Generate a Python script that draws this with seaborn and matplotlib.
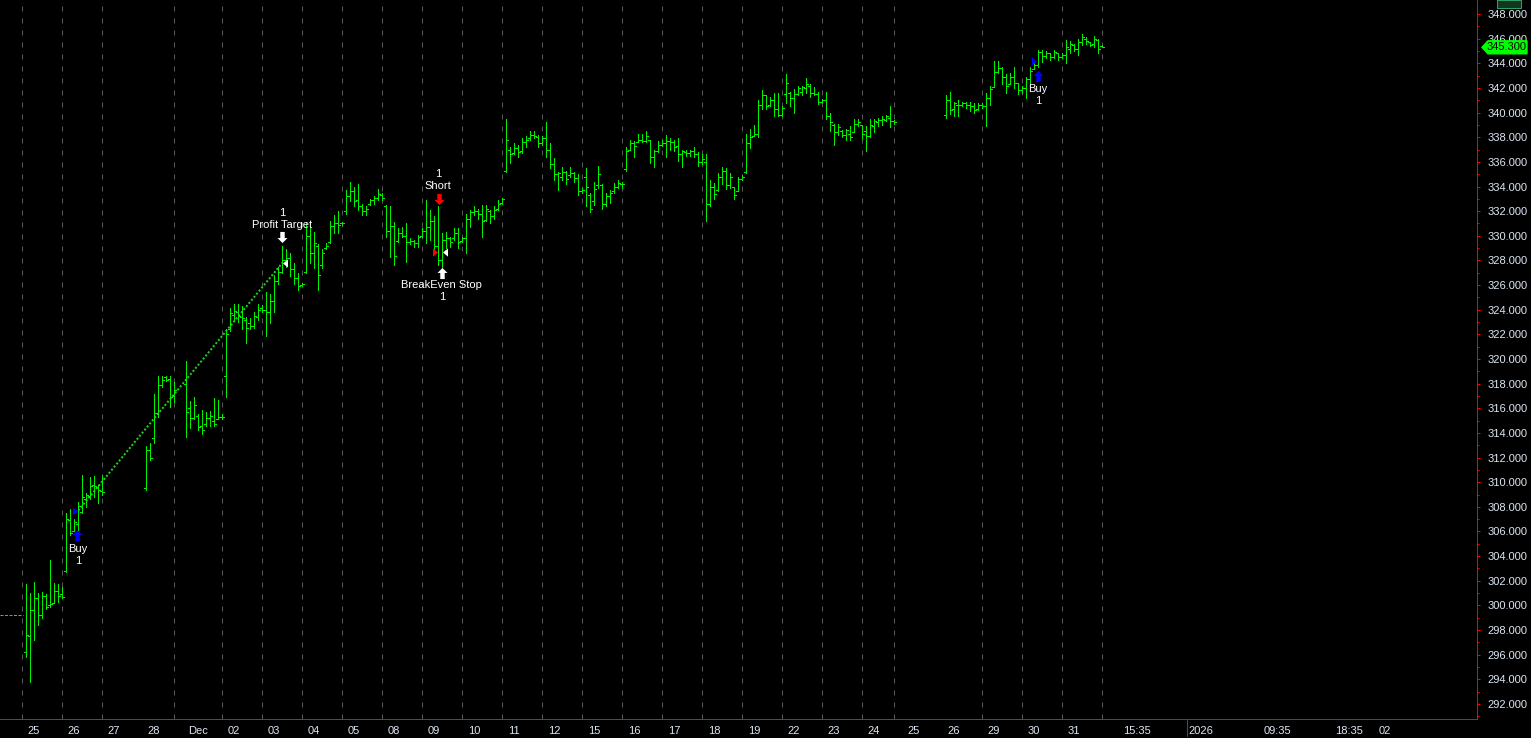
import numpy as np
import matplotlib
matplotlib.use("Agg")
import matplotlib.pyplot as plt
import matplotlib.transforms as mtransforms
from matplotlib.patches import Polygon, Rectangle
import seaborn as sns

N = None
# ---------------- data (one entry per bar slot; None = no bar) ----------------
highs = [
    301.7, 301.0, 301.9, 301.0, 301.1, 300.9, 303.7, 301.8, 301.7, 301.5,   # 25
    307.5, 307.8, 307.0, 308.4, 310.6, 309.1, 310.4, 310.5, 309.8, 310.6,   # 26
    N, N, N, N, N, N, N, N, N, N,                                           # 27
    312.9, 313.2, 317.2, 318.6, 318.6, 318.6, 318.6, 318.1,                 # 28
    N, N, 319.8, 316.6, 316.9, 315.5, 315.9, 315.7, 315.8, 316.8, 316.7, 315.5,  # Dec 01
    322.4, 324.1, 324.5, 324.5, 324.3, 323.4, 323.3, 323.8, 324.5, 324.4,   # 02
    325.4, 325.3, 326.8, 327.5, 329.2, 328.9, 328.6, 327.8, 327.0, 326.2,   # 03
    331.1, 330.6, 330.3, 329.3, 328.9, 329.4, 331.2, 331.7, 332.0, 331.1,   # 04
    333.7, 334.4, 334.0, 334.2, 332.6, 332.4, 333.0, 333.2, 333.8, 333.5,   # 05
    332.5, 332.4, 331.1, 330.6, 330.7, 331.0, 329.8, 329.7, 330.1, 330.6,   # 08
    332.9, 332.1, 331.6, 332.4, 330.2, 330.3, 329.9, 330.6, 330.6, 329.9,   # 09
    331.8, 332.1, 332.4, 332.2, 332.5, 332.5, 332.1, 332.4, 332.9, 333.1,   # 10
    339.5, 337.2, 337.5, 337.4, 337.9, 338.1, 338.5, 338.5, 338.2, 338.1,   # 11
    339.2, 337.5, 336.3, 335.2, 335.6, 335.3, 335.6, 335.2, 335.0, 333.9,   # 12
    335.5, 333.5, 334.4, 335.7, 334.2, 333.5, 333.7, 334.3, 334.5, 334.4,   # 15
    337.2, 337.8, 337.7, 338.3, 338.3, 338.5, 337.8, 337.0, 337.7, 337.8,   # 16
    338.2, 337.9, 337.8, 337.9, 337.0, 337.0, 337.0, 337.2, 336.8, 336.6,   # 17
    336.6, 334.5, 334.3, 335.1, 335.6, 335.5, 335.1, 334.0, 334.8, 334.9,   # 18
    338.3, 338.7, 339.0, 341.0, 341.8, 341.4, 341.3, 341.6, 341.6, 340.5,   # 19
    343.1, 341.7, 341.9, 342.2, 342.2, 342.8, 342.3, 342.1, 341.7, 341.1,   # 22
    341.7, 340.0, 339.1, 339.1, 338.6, 338.7, 338.9, 339.5, 339.5, 339.0,   # 23
    338.9, 339.5, 339.5, 339.6, 339.7, 339.8, 340.5, 339.4,                 # 24
    N, N, N, N, N, N, N, N, N, N, N, N,                                     # 25 (closed)
    341.4, 341.7, 340.9, 341.0, 340.9, 340.9, 340.9, 340.8, 340.8, 340.8,   # 26
    341.6, 342.2, 344.2, 344.2, 343.7, 343.1, 343.2, 343.7, 342.4, 342.2,   # 29
    342.9, 343.7, 344.1, 345.1, 345.1, 345.0, 344.8, 345.1, 344.8, 344.8,   # 30
    345.9, 345.8, 345.6, 346.0, 346.4, 346.1, 345.7, 346.2, 346.0, 345.5,   # 31
]
lows = [
    295.8, 293.8, 297.2, 298.4, 299.0, 299.7, 299.9, 300.3, 300.3, 300.6,
    302.7, 305.7, 306.0, 306.1, 307.5, 308.0, 308.6, 308.8, 308.3, 309.0,
    N, N, N, N, N, N, N, N, N, N,
    309.4, 311.8, 313.2, 315.3, 317.7, 318.2, 316.1, 316.5,
    N, N, 313.7, 314.4, 315.1, 314.2, 313.9, 314.6, 314.6, 314.6, 315.1, 315.1,
    316.9, 322.3, 323.2, 323.0, 322.4, 321.3, 322.4, 322.5, 323.2, 323.8,
    321.9, 322.9, 323.8, 326.1, 327.0, 327.5, 326.7, 326.1, 325.6, 325.9,
    327.0, 327.8, 327.4, 325.6, 327.4, 328.9, 329.4, 330.2, 330.2, 330.9,
    331.8, 332.8, 332.4, 332.1, 331.7, 331.7, 332.5, 332.6, 332.9, 332.9,
    329.9, 328.3, 327.6, 329.5, 329.9, 327.9, 329.3, 329.1, 329.1, 329.9,
    329.4, 329.7, 328.6, 327.6, 327.5, 329.0, 329.1, 329.7, 329.0, 329.5,
    328.6, 330.7, 331.7, 331.4, 329.9, 331.2, 331.0, 331.4, 332.1, 332.6,
    335.2, 335.9, 336.6, 336.4, 336.7, 337.2, 337.8, 337.9, 337.2, 337.4,
    336.4, 335.5, 334.5, 333.7, 334.5, 334.2, 334.8, 334.4, 333.3, 333.5,
    332.4, 331.9, 332.5, 333.9, 332.2, 332.4, 332.7, 333.5, 333.9, 333.9,
    335.3, 337.0, 336.4, 337.6, 337.6, 337.6, 335.9, 335.6, 336.8, 337.3,
    336.4, 337.0, 336.9, 336.1, 335.6, 336.5, 336.5, 336.4, 335.7, 335.8,
    331.2, 332.4, 333.0, 333.6, 334.2, 333.8, 333.9, 333.0, 333.6, 334.5,
    335.1, 337.1, 338.1, 338.0, 340.3, 340.3, 340.5, 339.7, 339.7, 339.7,
    340.8, 340.5, 340.0, 341.4, 341.4, 341.6, 341.3, 341.4, 340.7, 340.8,
    339.5, 338.5, 337.4, 338.2, 338.0, 337.8, 337.8, 338.4, 338.9, 337.9,
    336.9, 338.0, 338.4, 338.9, 339.0, 339.3, 338.8, 339.1,
    N, N, N, N, N, N, N, N, N, N, N, N,
    339.6, 339.9, 339.7, 339.7, 340.5, 340.4, 340.1, 340.0, 340.2, 340.4,
    338.9, 340.6, 342.1, 343.2, 342.3, 341.6, 342.3, 342.0, 341.5, 341.6,
    341.2, 342.4, 343.5, 343.7, 344.1, 344.4, 344.3, 344.4, 344.3, 344.4,
    344.0, 344.8, 345.0, 344.7, 345.5, 345.6, 345.4, 345.3, 344.8, 345.3,
]
opens = [
    296.2, 297.5, 299.6, 300.6, 299.2, 300.8, 300.0, 300.2, 301.2, 300.9,
    302.8, 306.9, 306.0, 306.6, 307.6, 308.6, 308.9, 309.8, 309.6, 309.3,
    N, N, N, N, N, N, N, N, N, N,
    309.5, 312.6, 313.6, 315.6, 317.9, 318.5, 318.4, 317.0,
    N, N, 318.0, 316.0, 315.2, 315.4, 314.6, 314.7, 315.2, 315.0, 315.1, 315.3,
    318.6, 322.4, 323.6, 323.8, 323.4, 323.2, 322.9, 322.7, 323.4, 324.1,
    324.0, 323.8, 324.7, 326.3, 327.1, 328.0, 328.2, 327.3, 326.6, 326.0,
    327.1, 330.0, 328.6, 329.2, 327.6, 329.0, 329.5, 330.8, 331.0, 331.0,
    332.0, 333.2, 333.6, 332.9, 332.4, 332.0, 332.6, 332.9, 333.1, 333.3,
    332.4, 330.4, 330.8, 329.6, 330.2, 330.0, 329.5, 329.6, 329.4, 330.0,
    330.4, 330.7, 331.2, 329.2, 328.0, 329.7, 329.8, 329.8, 330.2, 329.6,
    329.8, 331.4, 331.9, 332.0, 331.8, 331.3, 332.0, 331.6, 332.2, 332.7,
    335.3, 337.0, 336.7, 337.1, 336.9, 337.6, 337.9, 338.2, 338.0, 337.5,
    337.9, 337.0, 335.8, 335.0, 334.8, 335.2, 334.9, 335.1, 334.7, 333.6,
    334.8, 333.3, 332.8, 334.1, 334.1, 332.6, 333.2, 333.6, 334.0, 334.2,
    335.4, 337.0, 337.5, 337.6, 337.8, 337.7, 337.8, 336.4, 336.9, 337.4,
    337.5, 337.7, 337.6, 337.3, 336.6, 336.8, 336.7, 336.9, 336.6, 336.0,
    336.0, 332.6, 334.0, 333.7, 334.8, 335.3, 334.1, 334.0, 333.6, 334.6,
    335.2, 337.5, 338.1, 338.3, 340.6, 341.4, 340.6, 341.0, 340.3, 339.8,
    341.5, 341.6, 341.2, 341.5, 341.7, 342.0, 342.2, 341.6, 341.5, 340.9,
    341.0, 339.7, 339.0, 338.4, 338.5, 338.2, 338.3, 338.4, 339.1, 339.0,
    338.5, 338.1, 338.9, 339.2, 339.4, 339.4, 339.6, 339.3,
    N, N, N, N, N, N, N, N, N, N, N, N,
    339.8, 341.0, 340.3, 340.6, 340.6, 340.8, 340.6, 340.5, 340.3, 340.6,
    340.5, 341.2, 342.1, 343.3, 343.6, 342.9, 342.3, 342.9, 342.4, 341.8,
    342.0, 342.7, 343.5, 343.9, 344.9, 344.6, 344.8, 344.5, 344.8, 344.5,
    344.7, 345.2, 345.5, 345.2, 345.7, 346.0, 345.7, 345.6, 345.9, 345.4,
]
closes = [
    297.6, 299.6, 300.6, 299.2, 300.8, 299.9, 300.1, 301.2, 300.8, 300.7,
    307.0, 305.9, 306.8, 308.1, 308.8, 309.0, 309.7, 309.7, 309.4, 309.2,
    N, N, N, N, N, N, N, N, N, N,
    312.6, 312.0, 315.6, 317.9, 318.3, 318.3, 316.9, 317.5,
    N, N, 315.7, 315.2, 316.3, 314.5, 314.2, 315.2, 315.4, 314.7, 315.3, 315.3,
    322.0, 323.7, 323.9, 323.5, 323.3, 322.5, 322.7, 323.5, 324.0, 324.0,
    323.8, 324.7, 326.3, 327.1, 328.0, 328.2, 327.3, 326.6, 325.9, 326.1,
    330.0, 328.6, 329.4, 326.8, 328.6, 329.2, 330.8, 331.0, 330.9, 331.0,
    333.2, 333.6, 332.8, 332.4, 332.0, 332.2, 332.9, 333.1, 333.4, 333.1,
    330.4, 330.8, 328.4, 330.2, 330.0, 329.5, 329.6, 329.4, 329.9, 330.4,
    330.7, 331.2, 329.2, 328.0, 329.7, 329.8, 329.5, 330.2, 329.5, 329.8,
    331.4, 331.9, 332.0, 331.8, 331.2, 332.2, 331.6, 332.1, 332.6, 333.0,
    337.8, 336.6, 337.1, 336.8, 337.6, 337.8, 338.2, 338.1, 337.5, 337.9,
    337.0, 335.8, 335.0, 335.1, 335.2, 334.6, 335.1, 334.7, 333.6, 333.7,
    334.0, 332.2, 333.8, 335.0, 332.6, 333.2, 333.5, 334.0, 334.3, 334.2,
    336.9, 337.5, 337.3, 337.8, 337.7, 338.1, 336.4, 336.9, 337.4, 337.5,
    337.7, 337.6, 337.2, 336.6, 336.9, 336.7, 336.9, 336.6, 336.0, 336.2,
    332.6, 334.0, 333.4, 334.8, 335.3, 334.1, 334.8, 333.3, 334.6, 334.8,
    337.5, 338.0, 338.3, 340.6, 341.4, 340.5, 341.0, 340.3, 339.8, 340.4,
    342.4, 341.2, 341.5, 342.0, 342.1, 342.3, 341.6, 341.5, 340.9, 341.0,
    339.7, 339.2, 338.4, 338.8, 338.2, 338.6, 338.0, 339.1, 339.2, 338.3,
    338.1, 339.0, 339.3, 339.4, 339.5, 339.7, 339.3, 339.2,
    N, N, N, N, N, N, N, N, N, N, N, N,
    341.0, 340.2, 340.8, 340.6, 340.8, 340.6, 340.5, 340.2, 340.6, 340.5,
    341.2, 341.9, 343.3, 343.6, 342.9, 342.2, 342.9, 342.4, 341.8, 342.0,
    342.7, 343.4, 343.9, 344.9, 344.6, 344.8, 344.5, 344.9, 344.5, 344.7,
    345.3, 345.6, 345.2, 345.7, 346.1, 345.8, 345.5, 346.0, 345.2, 345.3,
]

# x-axis labels (bar-slot positions) and session separators
day_labels = ["25", "26", "27", "28", "Dec", "02", "03", "04", "05", "08", "09", "10",
              "11", "12", "15", "16", "17", "18", "19", "22", "23", "24", "25", "26",
              "29", "30", "31", "15:35", "2026", "09:35", "18:35", "02"]
day_label_slots = [0, 10, 20, 30, 40, 50, 60, 70, 80, 90, 100, 110, 120, 130, 140, 150,
                   160, 170, 180, 190, 200, 210, 220, 230, 240, 250, 260,
                   273.7, 290.2, 308.9, 326.7, 337.7]
minor_tick_slots = [4, 22, 58, 76, 94, 112, 148, 166, 184, 202, 238, 256, 344.4]
separator_slots = [-1, 9, 19, 37, 49, 59, 69, 79, 89, 99, 109, 119, 129, 139, 149, 159,
                   169, 179, 189, 199, 209, 217, 239, 249, 259, 269]
prev_close = 299.2
last_price = 345.3

# trades: (label, slot, price, colour)
entries = [("Buy", 13, 307.7, "#0000FF"), ("Short", 103, 328.7, "#FF0000"), ("Buy", 253, 344.2, "#0000FF")]
exits = [("Profit Target", 64, 327.8), ("BreakEven Stop", 104, 328.7)]

# ---------------- style ----------------
sns.set_style("dark", rc={"axes.facecolor": "black", "figure.facecolor": "black"})
plt.rcParams["font.family"] = ["Liberation Sans", "DejaVu Sans"]

GREEN = "#00F000"
RED = "#FF0000"
LBL = "#DCE6F2"
PX = 0.72  # one pixel in points at dpi 100

fig = plt.figure(figsize=(15.31, 7.38), dpi=100)
fig.patch.set_facecolor("black")
ax = fig.add_axes([0, 19 / 738, 1477 / 1531, 719 / 738])
ax.set_facecolor("black")
ax.set_xlim(-6.575, 362.675)
ax.set_ylim(290.78, 349.14)
ax.grid(False)

for s in ["top", "left"]:
    ax.spines[s].set_visible(False)
for s in ["right", "bottom"]:
    ax.spines[s].set_color(RED)
    ax.spines[s].set_linewidth(PX)

# session separators
for sx in separator_slots:
    ax.axvline(sx, color="#5A5A5A", lw=PX, ls=(0, (5, 7)), zorder=1)

# previous close line
ax.hlines(prev_close, -6.575, -0.9, color=GREEN, lw=PX, ls=(0, (3, 1.5)), zorder=2)

# trade line (dotted) via seaborn
sns.lineplot(x=[entries[0][1], exits[0][1]], y=[entries[0][2], exits[0][2]], ax=ax,
             color="#1FCF1F", lw=2 * PX, linestyle=(0, (1, 1)), zorder=2)

# OHLC bars
xs = np.arange(len(highs), dtype=float)
H = np.array([np.nan if v is None else v for v in highs])
L = np.array([np.nan if v is None else v for v in lows])
O = np.array([np.nan if v is None else v for v in opens])
C = np.array([np.nan if v is None else v for v in closes])
m = ~np.isnan(H)
ax.vlines(xs[m], L[m], H[m], color=GREEN, lw=PX, antialiased=False, zorder=3)
ax.hlines(O[m], xs[m] - 0.5, xs[m], color=GREEN, lw=PX, antialiased=False, zorder=3)
ax.hlines(C[m], xs[m], xs[m] + 0.5, color=GREEN, lw=PX, antialiased=False, zorder=3)

# ---------------- trade markers ----------------
tri_r = [(-0.6, 1), (0.6, 0), (-0.6, -1)]
tri_l = [(0.6, 1), (-0.6, 0), (0.6, -1)]
arrow_up = [(-0.4, -1), (0.4, -1), (0.4, 0.1), (0.9, 0.1), (0, 1), (-0.9, 0.1), (-0.4, 0.1)]
arrow_dn = [(x, -y) for x, y in arrow_up]

def mk(x, y, verts, color, ms):
    ax.plot([x], [y], ls="none", marker=verts, ms=ms, color=color, mew=0, zorder=6, clip_on=False)

def txt(x, y, s):
    ax.text(x, y, s, color="white", fontsize=8, ha="center", va="center", zorder=7)

# Buy #1
mk(12.05, entries[0][2], tri_r, "#0000FF", 6.0)
mk(12.75, 305.7, arrow_up, "#0000FF", 8.0)
txt(12.9, 304.55, "Buy")
txt(12.9, 303.6, "1")
# Profit target
mk(64.6, exits[0][2], tri_l, "white", 6.0)
mk(63.85, 329.9, arrow_dn, "white", 8.0)
txt(63.9, 330.87, "Profit Target")
txt(63.9, 331.85, "1")
# Short
mk(102.2, entries[1][2], tri_r, RED, 6.0)
mk(103.05, 333.0, arrow_dn, RED, 8.0)
txt(102.9, 334.04, "Short")
txt(102.9, 335.0, "1")
# BreakEven stop
mk(104.75, exits[1][2], tri_l, "white", 6.0)
mk(103.85, 327.0, arrow_up, "white", 8.0)
txt(103.9, 326.0, "BreakEven Stop")
txt(103.9, 325.03, "1")
# Buy #2
mk(252.0, entries[2][2], tri_r, "#0000FF", 6.0)
mk(252.85, 343.0, arrow_up, "#0000FF", 8.0)
txt(252.9, 341.9, "Buy")
txt(252.9, 340.94, "1")

# ---------------- axes ticks ----------------
ax.yaxis.tick_right()
yt = np.arange(292, 349, 2)
ax.set_yticks(yt)
ax.set_yticklabels([f"{v:.3f}" for v in yt])
ax.set_yticks(np.arange(291, 349, 2), minor=True)
ax.tick_params(axis="y", which="major", direction="out", length=3.3 * PX, width=PX,
               color=RED, labelcolor=LBL, labelsize=8, pad=5)
ax.tick_params(axis="y", which="minor", direction="out", length=2.2 * PX, width=PX, color=RED)

ax.set_xticks(day_label_slots)
ax.set_xticklabels(day_labels, ha="left")
ax.set_xticks(minor_tick_slots, minor=True)
ax.tick_params(axis="x", which="both", direction="out", length=3.3 * PX, width=PX,
               color=RED, labelcolor=LBL, labelsize=8, pad=2.5)
off = mtransforms.ScaledTranslation(1.5 / 100, 0, fig.dpi_scale_trans)
for lab in ax.get_xticklabels():
    lab.set_transform(lab.get_transform() + off)

# year tick (tall)
bt = mtransforms.blended_transform_factory(ax.transData, ax.transAxes)
ax.plot([290.2, 290.2], [0, -17 / 719], color=RED, lw=PX, transform=bt, clip_on=False)

# last price marker
rt = mtransforms.blended_transform_factory(ax.transAxes, ax.transData)
W = 1477.0
hp = 6.5 / 12.32
poly = Polygon([(1 + 5 / W, last_price), (1 + 11 / W, last_price + hp), (1 + 50 / W, last_price + hp),
                (1 + 50 / W, last_price - hp), (1 + 11 / W, last_price - hp)],
               closed=True, transform=rt, facecolor="#00FF00", edgecolor="#00FF00",
               clip_on=False, zorder=10)
ax.add_patch(poly)
ax.text(1 + 30 / W, last_price, f"{last_price:.3f}", transform=rt, color="black", fontsize=8,
        ha="center", va="center", zorder=11, clip_on=False)

# small icon at top right
fig.patches.append(Rectangle((1497 / 1531, 730 / 738), 24 / 1531, 8 / 738, transform=fig.transFigure,
                             facecolor="#103820", edgecolor="#2FA060", lw=PX))

fig.savefig("out.png", dpi=100, facecolor="black")
